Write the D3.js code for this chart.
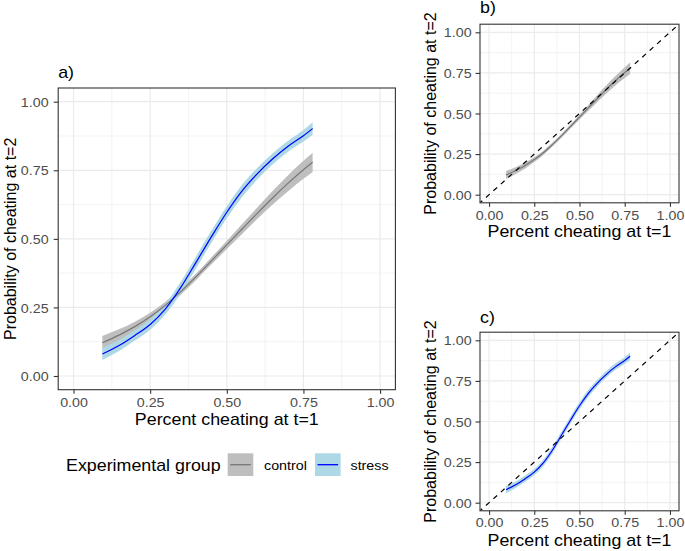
<!DOCTYPE html>
<html>
<head>
<meta charset="utf-8">
<script src="https://cdn.jsdelivr.net/npm/d3@7"></script>
<style>
  html, body { margin: 0; padding: 0; background: #ffffff; }
  svg { display: block; font-family: "Liberation Sans", Arial, sans-serif; }
</style>
</head>
<body>
<svg id="chart" width="685" height="551"></svg>
<script>
// ---------------- data ----------------
const xValues      = [0.094, 0.15, 0.20, 0.25, 0.30, 0.35, 0.40, 0.45, 0.50, 0.55, 0.60, 0.65, 0.70, 0.75, 0.78];
const controlMean  = [0.121, 0.150, 0.180, 0.216, 0.258, 0.308, 0.362, 0.420, 0.478, 0.536, 0.594, 0.650, 0.703, 0.752, 0.779];
const controlLower = [0.096, 0.129, 0.162, 0.201, 0.245, 0.296, 0.350, 0.407, 0.463, 0.518, 0.573, 0.625, 0.674, 0.719, 0.744];
const controlUpper = [0.146, 0.171, 0.198, 0.231, 0.271, 0.320, 0.374, 0.433, 0.493, 0.554, 0.615, 0.675, 0.732, 0.785, 0.814];
const stressMean   = [0.080, 0.112, 0.148, 0.188, 0.245, 0.323, 0.415, 0.508, 0.597, 0.675, 0.738, 0.792, 0.838, 0.876, 0.902];
const stressLower  = [0.058, 0.092, 0.129, 0.169, 0.225, 0.302, 0.393, 0.486, 0.575, 0.653, 0.717, 0.772, 0.818, 0.855, 0.879];
const stressUpper  = [0.102, 0.132, 0.167, 0.207, 0.265, 0.344, 0.437, 0.530, 0.619, 0.697, 0.759, 0.812, 0.858, 0.897, 0.925];
const tickValues   = [0, 0.25, 0.5, 0.75, 1];
const tickLabels   = ["0.00", "0.25", "0.50", "0.75", "1.00"];
const groupNames   = ["control", "stress"];
const legendTitle  = "Experimental group";
const xTitle = "Percent cheating at t=1";
const yTitle = "Probability of cheating at t=2";

// ---------------- styles ----------------
const SX = 1.115; // horizontal stretch of the original image
const styles = {
  control: { band: "#bebebe", line: "#777777" },
  stress:  { band: "#add8e6", line: "#0000ff" }
};
const series = {
  control: xValues.map((x, i) => ({ x, m: controlMean[i], lo: controlLower[i], hi: controlUpper[i] })),
  stress:  xValues.map((x, i) => ({ x, m: stressMean[i], lo: stressLower[i], hi: stressUpper[i] }))
};

const svg = d3.select("#chart");

function text(g, x, y, str, o = {}) {
  const tf = o.rotate
    ? `translate(${x},${y}) rotate(-90)`
    : `translate(${x},${y}) scale(${SX},1)`;
  return g.append("text")
    .attr("transform", tf)
    .attr("text-anchor", o.anchor || "start")
    .attr("font-size", o.size || 16)
    .attr("fill", o.fill || "#000")
    .text(str);
}

let clipId = 0;
function drawPanel(cfg) {
  const x = d3.scaleLinear().domain([-0.05, 1.05]).range([cfg.left, cfg.right]);
  const y = d3.scaleLinear().domain([-0.05, 1.05]).range([cfg.bottom, cfg.top]);
  const g = svg.append("g");

  const id = "clip" + (clipId++);
  g.append("clipPath").attr("id", id).append("rect")
    .attr("x", cfg.left).attr("y", cfg.top)
    .attr("width", cfg.right - cfg.left).attr("height", cfg.bottom - cfg.top);

  // grid
  const minor = [0.125, 0.375, 0.625, 0.875];
  const grid = g.append("g");
  minor.forEach(v => {
    grid.append("line").attr("x1", x(v)).attr("x2", x(v)).attr("y1", cfg.top).attr("y2", cfg.bottom)
      .attr("stroke", "#ebebeb").attr("stroke-width", 0.6);
    grid.append("line").attr("y1", y(v)).attr("y2", y(v)).attr("x1", cfg.left).attr("x2", cfg.right)
      .attr("stroke", "#ebebeb").attr("stroke-width", 0.6);
  });
  tickValues.forEach(v => {
    grid.append("line").attr("x1", x(v)).attr("x2", x(v)).attr("y1", cfg.top).attr("y2", cfg.bottom)
      .attr("stroke", "#ebebeb").attr("stroke-width", 1.2);
    grid.append("line").attr("y1", y(v)).attr("y2", y(v)).attr("x1", cfg.left).attr("x2", cfg.right)
      .attr("stroke", "#ebebeb").attr("stroke-width", 1.2);
  });

  const plot = g.append("g").attr("clip-path", `url(#${id})`);
  const area = d3.area().x(d => x(d.x)).y0(d => y(d.lo)).y1(d => y(d.hi)).curve(d3.curveMonotoneX);
  const line = d3.line().x(d => x(d.x)).y(d => y(d.m)).curve(d3.curveMonotoneX);

  cfg.groups.forEach(k => {
    plot.append("path").datum(series[k]).attr("d", area).attr("fill", styles[k].band).attr("stroke", "none");
  });
  cfg.groups.forEach(k => {
    plot.append("path").datum(series[k]).attr("d", line).attr("fill", "none")
      .attr("stroke", styles[k].line).attr("stroke-width", 1.2);
  });

  if (cfg.diagonal) {
    const diag = [-0.05, 1.05];
    plot.append("line")
      .attr("x1", x(diag[0])).attr("y1", y(diag[0]))
      .attr("x2", x(diag[1])).attr("y2", y(diag[1]))
      .attr("stroke", "#000").attr("stroke-width", 1.2).attr("stroke-dasharray", "5,5")
      .attr("stroke-dashoffset", 2);
  }

  // border
  g.append("rect").attr("x", cfg.left).attr("y", cfg.top)
    .attr("width", cfg.right - cfg.left).attr("height", cfg.bottom - cfg.top)
    .attr("fill", "none").attr("stroke", "#333333").attr("stroke-width", 1.1);

  // axes
  const fmt = d => tickLabels[tickValues.indexOf(d)];
  const ax = g.append("g").attr("transform", `translate(0,${cfg.bottom})`)
    .call(d3.axisBottom(x).tickValues(tickValues).tickFormat(fmt).tickSize(4));
  ax.select(".domain").remove();
  ax.selectAll(".tick line").attr("stroke", "#333333").attr("stroke-width", 1.1);
  ax.selectAll(".tick text").attr("y", cfg.xTickBase).attr("dy", 0)
    .attr("transform", `scale(${SX},1)`)
    .attr("font-size", cfg.tickSize).attr("fill", "#4d4d4d").attr("font-family", null);

  const ay = g.append("g").attr("transform", `translate(${cfg.left},0)`)
    .call(d3.axisLeft(y).tickValues(tickValues).tickFormat(fmt).tickSize(4 * SX));
  ay.select(".domain").remove();
  ay.selectAll(".tick line").attr("stroke", "#333333").attr("stroke-width", 1.1);
  ay.selectAll(".tick text").attr("x", -cfg.yTickGap / SX).attr("dy", "0.36em")
    .attr("transform", `scale(${SX},1)`)
    .attr("font-size", cfg.tickSize).attr("fill", "#4d4d4d").attr("font-family", null);

  // titles
  text(g, (cfg.left + cfg.right) / 2, cfg.xTitleBase, xTitle, { anchor: "middle", size: 16 });
  text(g, cfg.yTitleBase, (cfg.top + cfg.bottom) / 2, yTitle, { anchor: "middle", size: 16, rotate: true });
  text(g, cfg.left, cfg.labelBase, cfg.label, { size: 16 });
}

drawPanel({ left: 58.2, right: 395.4, top: 88, bottom: 389.7, groups: ["control", "stress"],
  diagonal: false, tickSize: 12.8, xTickBase: 17.3, yTickGap: 9.6, xTitleBase: 425, yTitleBase: 15.5,
  label: "a)", labelBase: 77.5 });
drawPanel({ left: 480, right: 679, top: 24.2, bottom: 202.8, groups: ["control"],
  diagonal: true, tickSize: 12.8, xTickBase: 17.2, yTickGap: 8.4, xTitleBase: 237, yTitleBase: 436,
  label: "b)", labelBase: 12.7 });
drawPanel({ left: 480, right: 679, top: 332.2, bottom: 510.8, groups: ["stress"],
  diagonal: true, tickSize: 12.8, xTickBase: 16.6, yTickGap: 8.4, xTitleBase: 545.5, yTitleBase: 436,
  label: "c)", labelBase: 322.5 });

// ---------------- legend ----------------
const lg = svg.append("g");
text(lg, 66, 470.7, legendTitle, { size: 16 });
const keyX = [227.7, 315];
const labX = [264, 350.5];
groupNames.forEach((k, i) => {
  lg.append("rect").attr("x", keyX[i]).attr("y", 453.3).attr("width", 25.6).attr("height", 22.7)
    .attr("fill", styles[k].band);
  lg.append("line").attr("x1", keyX[i] + 2.5).attr("x2", keyX[i] + 23.1).attr("y1", 464.7).attr("y2", 464.7)
    .attr("stroke", styles[k].line).attr("stroke-width", 1.3);
  text(lg, labX[i], 470, k, { size: 12.8 });
});
</script>
</body>
</html>
